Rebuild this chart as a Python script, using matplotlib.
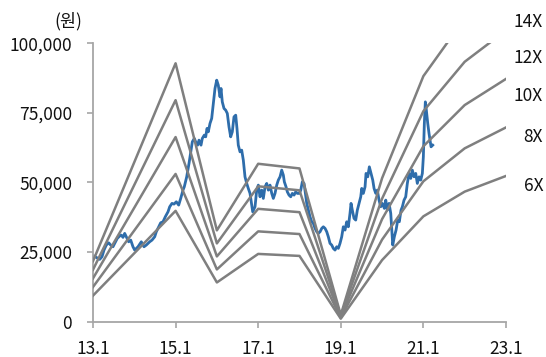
import numpy as np
import matplotlib
matplotlib.use("Agg")
import matplotlib.pyplot as plt

plt.rcParams['font.family'] = ['Noto Sans CJK KR', 'DejaVu Sans']
plt.rcParams['font.weight'] = 'light'

# x axis: months since Jan 2013
tick_pos = [0, 24, 48, 72, 96, 120]
tick_lab = ['13.1', '15.1', '17.1', '19.1', '21.1', '23.1']

# EPS anchor points used for the PER band
eps_m = [0, 24, 36, 48, 60, 72, 84, 96, 108, 120]
eps = [1550, 6630, 2340, 4050, 3930, 170, 3680, 6300, 7780, 8720]
multiples = [14, 12, 10, 8, 6]
band_lab = ['14X', '12X', '10X', '8X', '6X']
label_y = [107600, 94650, 81000, 66270, 48670]

# share price (won)
price_m = [0.29, 0.96, 1.95, 2.62, 3.20, 3.87, 4.56, 5.14, 5.81, 6.31,
           7.06, 7.76, 8.22, 8.72, 9.21, 9.68, 10.37, 10.96, 11.62, 12.12,
           13.08, 14.04, 14.82, 15.49, 16.48, 17.15, 17.93, 18.40, 19.09, 19.67,
           20.34, 21.01, 21.80, 22.29, 22.96, 23.54, 24.21, 24.90, 25.49, 26.15,
           26.53, 27.23, 27.90, 28.48, 28.86, 29.44, 29.84, 30.43, 30.80, 31.39,
           31.76, 32.34, 32.75, 33.13, 33.50, 34.00, 34.49, 34.96, 35.45, 35.95,
           36.41, 36.91, 37.20, 37.57, 38.07, 38.56, 39.03, 39.52, 40.01, 40.48,
           40.97, 41.47, 41.84, 42.22, 42.72, 43.21, 43.68, 44.17, 44.67, 45.13,
           45.63,
           46.41, 47.08, 47.57, 48.04, 48.53, 49.03, 49.49, 49.99, 50.48, 50.95,
           51.44, 51.94, 52.40, 52.89, 53.39, 53.85, 54.35, 54.84, 55.31, 55.60,
           56.09, 56.47, 56.96, 57.46, 57.92, 58.42, 58.91, 59.38, 59.96, 60.37,
           60.83, 61.33, 61.71, 62.11, 62.58, 63.06, 63.56, 64.03, 64.52, 65.02,
           65.48, 65.98, 66.47, 66.93, 67.43, 67.92, 68.38, 68.87, 69.37, 69.83,
           70.33, 70.82, 71.29, 71.78, 72.27, 72.74,
           73.23, 73.72, 74.19, 74.68, 74.98, 75.35, 75.85, 76.34, 76.81, 77.30,
           77.80, 78.09, 78.55, 79.05, 79.34, 79.83, 80.30, 80.79, 81.29, 81.67,
           82.16, 82.62, 83.12, 83.61, 84.08, 84.66, 85.07, 85.53, 86.03, 86.52,
           86.81, 87.10, 87.56, 88.06, 88.55, 89.01, 89.51, 89.89, 90.38, 90.87,
           91.34, 91.83, 92.33, 92.79, 93.29, 93.78, 94.24, 94.74, 95.23, 95.70,
           95.99, 96.28, 96.57, 96.86, 97.27, 97.64, 97.94, 98.23, 98.72]
price_v = [23530, 23060, 22340, 23280, 25680, 27480, 28300, 27480, 26870, 28090,
           29890, 30710, 31070, 30240, 31680, 30460, 28660, 29270, 26870, 25680,
           26870, 28660, 26870, 27480, 28660, 29270, 30460, 32260, 34050, 35490,
           35850, 37640, 39440, 41240, 42460, 42210, 43030, 41850, 44250, 47230,
           48420, 52010, 56820, 61600, 64580, 65800, 64580, 63400, 65190, 63400,
           65800, 66990, 66380, 69400, 68180, 71190, 72990, 78380, 83760, 86750,
           84950, 80750, 83760, 78950, 76580, 75970, 74790, 69970, 66380, 68180,
           73560, 74170, 69400, 63400, 60990, 61600, 58010, 52010, 49640, 47840,
           46050,
           39440, 41240, 47230, 49030, 44830, 47230, 44250, 48420, 49640, 47230,
           49030, 46050, 44250, 46050, 49030, 50830, 52010, 54420, 52620, 50220,
           48420, 46620, 45440, 44830, 46050, 45440, 46620, 46050, 46050, 47230,
           50220, 49640, 46050, 42460, 40050, 37640, 35850, 35270, 33480, 32260,
           31680, 32260, 33480, 34050, 33480, 32260, 30460, 28090, 27480, 26290,
           25680, 26870, 26290, 28090, 30460, 34050,
           32870, 35850, 34050, 38860, 42460, 40050, 37070, 36460, 40050, 42460,
           44830, 47840, 46050, 48420, 53230, 52010, 55600, 53230, 50830, 47840,
           46050, 47230, 43640, 41240, 42460, 40660, 43640, 40050, 42460, 38860,
           32870, 27480, 30460, 32870, 36460, 35850, 40050, 41240, 43640, 44830,
           49640, 53230, 51440, 54420, 52010, 53230, 49640, 52010, 50830, 53230,
           59200, 71190, 78950, 75970, 71190, 67600, 65190, 62790, 63400]

fig = plt.figure(figsize=(5.46, 3.57), dpi=100)
ax = fig.add_axes([0.1703, 0.0994, 0.7564, 0.7793])

ax.plot(price_m, price_v, color='#2e6dab', lw=2.0, zorder=2)
for k, lab, ly in zip(multiples, band_lab, label_y):
    ax.plot(eps_m, np.array(eps) * k, color='#7f7f7f', lw=1.8, zorder=3)
    ax.text(130.8, ly, lab, ha='right', va='center', fontsize=12.5,
            color='#111111', clip_on=False)

ax.set_xlim(0, 120)
ax.set_ylim(0, 100000)
ax.set_xticks(tick_pos)
ax.set_xticklabels(tick_lab)
ax.set_yticks([0, 25000, 50000, 75000, 100000])
ax.set_yticklabels(['0', '25,000', '50,000', '75,000', '100,000'])

for s in ['top', 'right']:
    ax.spines[s].set_visible(False)
for s in ['left', 'bottom']:
    ax.spines[s].set_color('#a6a6a6')
    ax.spines[s].set_linewidth(1.3)
ax.tick_params(axis='y', direction='out', length=4, width=1.2, color='#a6a6a6',
               pad=11, labelsize=12.5, labelcolor='#111111')
ax.tick_params(axis='x', direction='out', length=4, width=1.2, color='#a6a6a6',
               pad=9, labelsize=12.5, labelcolor='#111111')

fig.text(82 / 546, 1 - 21 / 357, '(원)', ha='right', va='center',
         fontsize=12.5, color='#111111')

fig.savefig('out.png', dpi=100)
